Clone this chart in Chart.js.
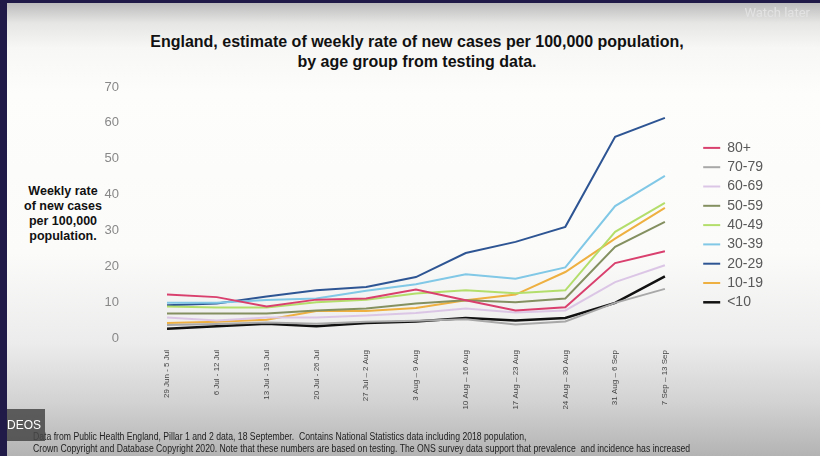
<!DOCTYPE html>
<html>
<head>
<meta charset="utf-8">
<script src="https://cdn.jsdelivr.net/npm/chart.js@4.4.1/dist/chart.umd.min.js"></script>
<style>
  body { margin: 0; width: 820px; height: 456px; overflow: hidden; position: relative; background: #1f1a47; font-family: "Liberation Sans", Arial, sans-serif; }
  #screen { position: absolute; left: 7px; top: 3px; right: 0; bottom: 0;
    background: linear-gradient(to bottom, #bcbcbc 0px, #e6e6e5 20px, #f7f7f6 45px, #fdfdfc 90px, #fbfbfa 250px, #ececec 340px, #d2d2d2 400px, #b3b3b3 453px); }
  #chartBox { position: absolute; left: 0; top: 0; width: 820px; height: 456px; }
  .title { position: absolute; left: 0; width: 834px; top: 32px; text-align: center; font-weight: bold; font-size: 16px; line-height: 20px; color: #111; }
  .ytitle { position: absolute; left: 22px; width: 82px; top: 184px; text-align: center; font-weight: bold; font-size: 12.5px; line-height: 15px; color: #111; }
  .foot { position: absolute; left: 33px; top: 431px; font-size: 10px; line-height: 11.5px; color: #222; white-space: pre; transform: scaleX(0.865); transform-origin: left top; }
  .deos { position: absolute; left: 7px; top: 409px; width: 38px; height: 32px; background: rgba(70,70,70,0.85); color: #fff; font-size: 12px; line-height: 32px; }
  .watch { position: absolute; right: 10px; top: 5px; color: #e2e2e2; font-size: 13px; font-family: Roboto, "Liberation Sans", sans-serif; }
</style>
</head>
<body>
<div id="screen"></div>
<div class="title">England, estimate of weekly rate of new cases per 100,000 population,<br>by age group from testing data.</div>
<div class="ytitle">Weekly rate<br>of new cases<br>per 100,000<br>population.</div>
<div id="chartBox"><canvas id="casesChart" width="820" height="456"></canvas></div>
<div class="foot">Data from Public Health England, Pillar 1 and 2 data, 18 September.  Contains National Statistics data including 2018 population,
Crown Copyright and Database Copyright 2020. Note that these numbers are based on testing. The ONS survey data support that prevalence  and incidence has increased</div>
<div class="deos">DEOS</div>
<div class="watch">Watch later</div>
<script>
const weeks = ['29 Jun - 5 Jul', '6 Jul - 12 Jul', '13 Jul - 19 Jul', '20 Jul - 26 Jul', '27 Jul \u2013 2 Aug', '3 Aug \u2013 9 Aug',
  '10 Aug \u2013 16 Aug', '17 Aug \u2013 23 Aug', '24 Aug \u2013 30 Aug', '31 Aug \u2013 6 Sep', '7 Sep \u2013 13 Sep'];
const ageGroups = ['80+', '70-79', '60-69', '50-59', '40-49', '30-39', '20-29', '10-19', '<10'];
const age80plus = [12.1, 11.4, 8.8, 10.7, 11.0, 13.5, 10.5, 7.7, 8.6, 20.9, 24.2];
const age70to79 = [3.6, 3.9, 4.3, 4.0, 4.5, 4.8, 5.2, 3.8, 4.6, 9.8, 13.7];
const age60to69 = [5.7, 4.9, 5.7, 5.7, 6.3, 7.0, 8.2, 7.1, 7.7, 15.6, 20.3];
const age50to59 = [6.8, 6.8, 6.8, 7.7, 8.2, 9.6, 10.5, 10.0, 11.0, 25.4, 32.4];
const age40to49 = [8.8, 8.5, 8.5, 10.0, 10.7, 12.4, 13.3, 12.5, 13.3, 29.6, 37.7];
const age30to39 = [9.8, 9.8, 10.6, 11.0, 13.2, 15.0, 17.8, 16.5, 19.7, 36.8, 45.2];
const age20to29 = [9.1, 9.6, 11.6, 13.3, 14.2, 17.0, 23.7, 26.8, 31.0, 56.1, 61.4];
const age10to19 = [4.2, 4.5, 5.1, 7.5, 7.5, 8.4, 10.5, 12.1, 18.4, 27.7, 36.3];
const ageUnder10 = [2.6, 3.3, 4.0, 3.3, 4.2, 4.6, 5.6, 4.9, 5.6, 9.8, 17.2];
const lineColours = ['#d9406e', '#a8a8a8', '#dcc6e6', '#849060', '#b4de6c', '#80c8e6', '#2e5593', '#eeb040', '#111111'];

const seriesValues = [age80plus, age70to79, age60to69, age50to59, age40to49, age30to39, age20to29, age10to19, ageUnder10];

const casesChart = new Chart(document.getElementById('casesChart'), {
  type: 'line',
  data: {
    labels: weeks,
    datasets: ageGroups.map((group, i) => ({
      label: group,
      data: seriesValues[i],
      borderColor: lineColours[i],
      backgroundColor: lineColours[i],
      borderWidth: i === 8 ? 2.5 : 2,
      pointRadius: 0,
      tension: 0,
      fill: false
    }))
  },
  options: {
    responsive: false,
    animation: false,
    layout: { padding: { top: 87, left: 59, right: 47, bottom: 0 } },
    scales: {
      x: {
        afterFit: (scale) => { scale.height = 118; },
        grid: { display: false },
        border: { display: false },
        ticks: { autoSkip: false, maxRotation: 90, minRotation: 90, padding: 4, color: '#444', font: { size: 8, family: 'Liberation Sans' } }
      },
      y: {
        min: 0,
        max: 70,
        afterFit: (scale) => { scale.width = 108; },
        grid: { display: false },
        border: { display: false },
        ticks: { stepSize: 10, padding: 40, color: '#888', font: { size: 13, family: 'Liberation Sans' } }
      },
      // empty spacer between plot and legend
      gap: {
        position: 'right',
        display: true,
        afterFit: (scale) => { scale.width = 33; },
        grid: { display: false },
        border: { display: false },
        ticks: { display: false }
      }
    },
    plugins: {
      legend: {
        position: 'right',
        align: 'start',
        title: { display: true, text: ' ', padding: { top: 33, bottom: 0 }, font: { size: 13 } },
        labels: {
          usePointStyle: true,
          pointStyle: 'line',
          pointStyleWidth: 17,
          padding: 5.3,
          color: '#595959',
          font: { size: 14, family: 'Liberation Sans' }
        }
      },
      tooltip: { enabled: false }
    }
  }
});
</script>
</body>
</html>
